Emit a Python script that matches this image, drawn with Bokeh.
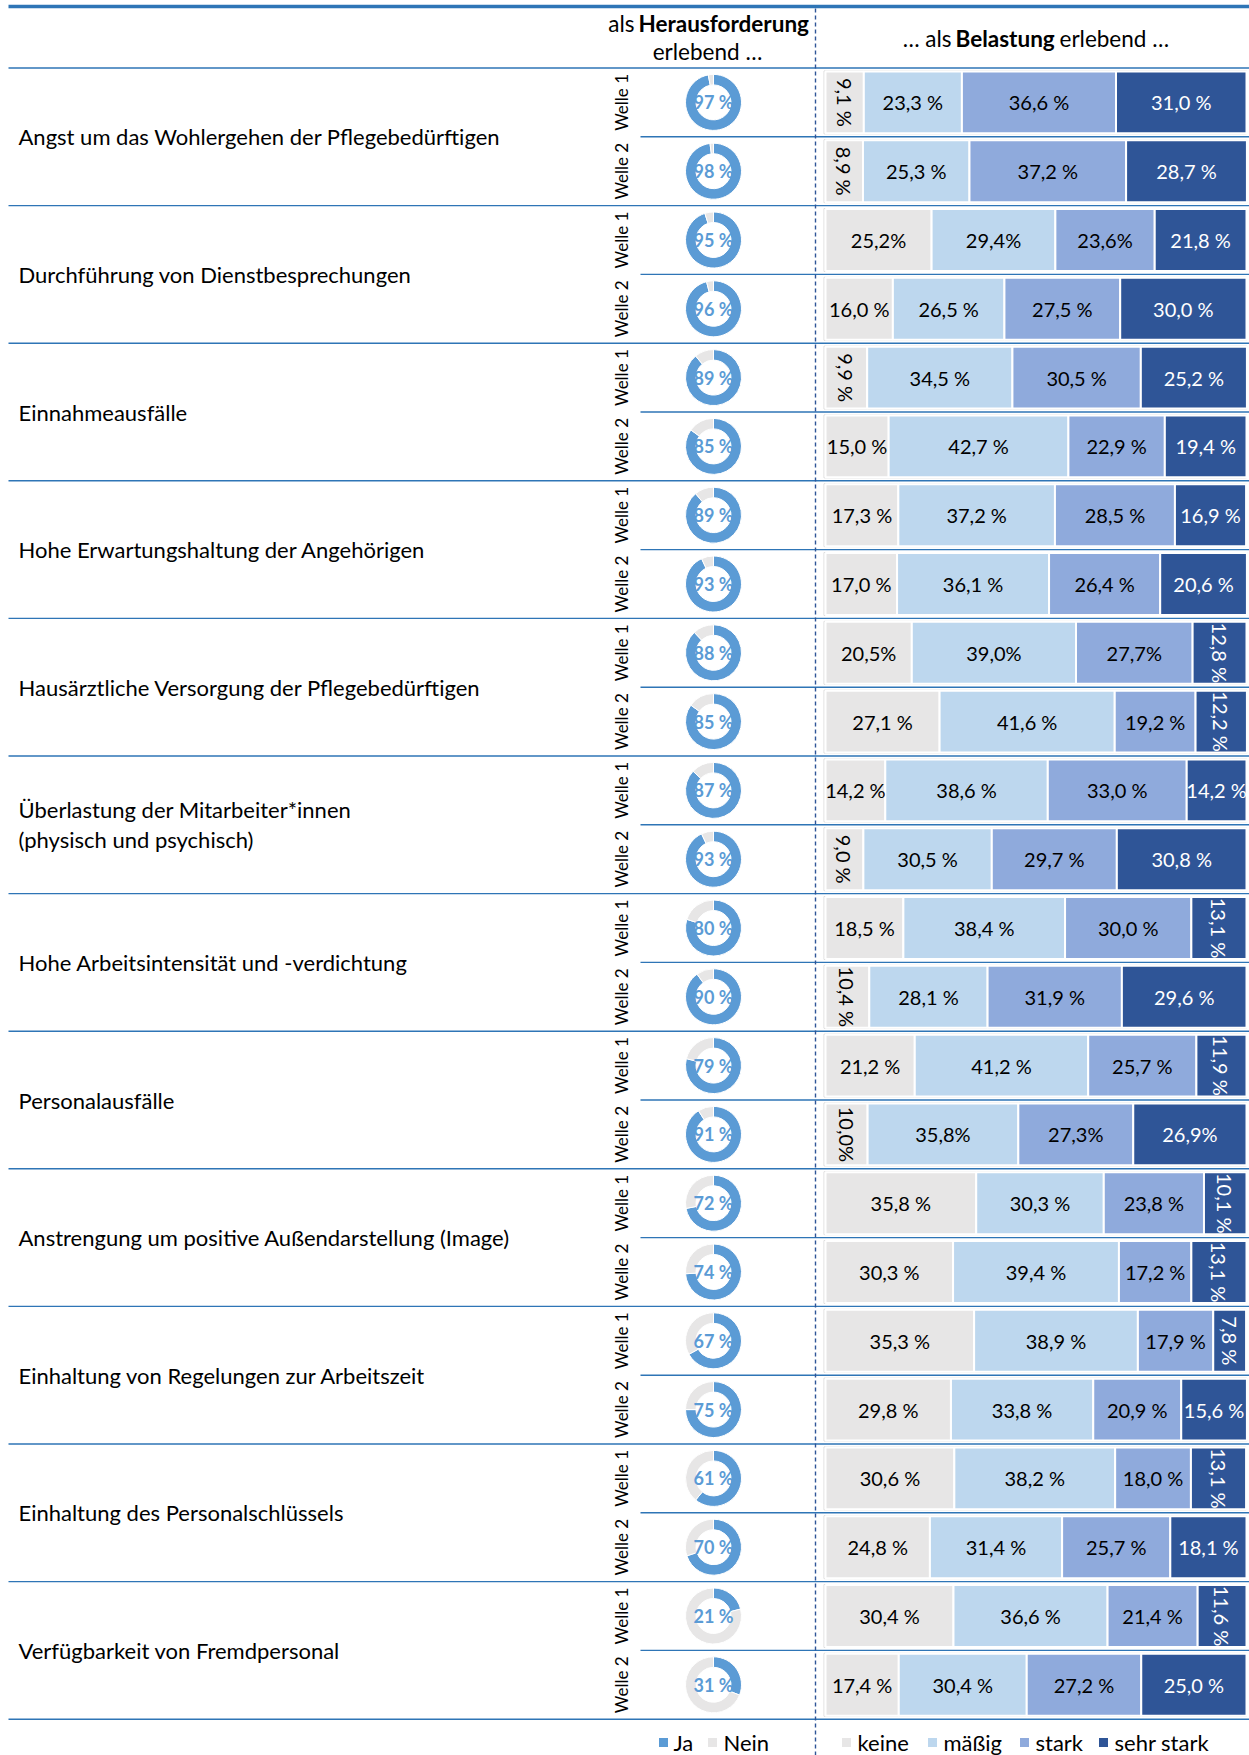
import math
from bokeh.plotting import figure
from bokeh.models import Range1d, ColumnDataSource
from bokeh.core.properties import value
from bokeh.embed import file_html
from bokeh.resources import INLINE

# ---------------- data ----------------
items = [
    "Angst um das Wohlergehen der Pflegebedürftigen",
    "Durchführung von Dienstbesprechungen",
    "Einnahmeausfälle",
    "Hohe Erwartungshaltung der Angehörigen",
    "Hausärztliche Versorgung der Pflegebedürftigen",
    "Überlastung der Mitarbeiter*innen\n(physisch und psychisch)",
    "Hohe Arbeitsintensität und -verdichtung",
    "Personalausfälle",
    "Anstrengung um positive Außendarstellung (Image)",
    "Einhaltung von Regelungen zur Arbeitszeit",
    "Einhaltung des Personalschlüssels",
    "Verfügbarkeit von Fremdpersonal",
]
waves = ["Welle 1", "Welle 2"]

ja_w1 = [97, 95, 89, 89, 88, 87, 80, 79, 72, 67, 61, 21]
ja_w2 = [98, 96, 85, 93, 85, 93, 90, 91, 74, 75, 70, 31]

categories = ["keine", "mäßig", "stark", "sehr stark"]
keine_w1 = [9.1, 25.2, 9.9, 17.3, 20.5, 14.2, 18.5, 21.2, 35.8, 35.3, 30.6, 30.4]
maessig_w1 = [23.3, 29.4, 34.5, 37.2, 39.0, 38.6, 38.4, 41.2, 30.3, 38.9, 38.2, 36.6]
stark_w1 = [36.6, 23.6, 30.5, 28.5, 27.7, 33.0, 30.0, 25.7, 23.8, 17.9, 18.0, 21.4]
sehr_w1 = [31.0, 21.8, 25.2, 16.9, 12.8, 14.2, 13.1, 11.9, 10.1, 7.8, 13.1, 11.6]

keine_w2 = [8.9, 16.0, 15.0, 17.0, 27.1, 9.0, 10.4, 10.0, 30.3, 29.8, 24.8, 17.4]
maessig_w2 = [25.3, 26.5, 42.7, 36.1, 41.6, 30.5, 28.1, 35.8, 39.4, 33.8, 31.4, 30.4]
stark_w2 = [37.2, 27.5, 22.9, 26.4, 19.2, 29.7, 31.9, 27.3, 17.2, 20.9, 25.7, 27.2]
sehr_w2 = [28.7, 30.0, 19.4, 20.6, 12.2, 30.8, 29.6, 26.9, 13.1, 15.6, 18.1, 25.0]

# labels printed without a space before "%" in the original (wave index, item index) -> category indices
nospace = {(0, 1): [0, 1, 2], (0, 4): [0, 1, 2], (1, 7): [0, 1, 2, 3]}

ja_legend = ["Ja", "Nein"]

# ---------------- styling / layout ----------------
FONT = value("Lato")
LINE = "#2E75B6"
JA_COL = "#5B9BD5"
NEIN_COL = "#E7E6E6"
CAT_COLORS = ["#E7E6E6", "#BDD7EE", "#8FAADC", "#2F5597"]
CAT_TEXT = ["#000000", "#000000", "#000000", "#FFFFFF"]

W, H = 1249, 1755
PX0, PX1 = 0, 1249
PY0, PY1 = 0, 1755
ROW0, RH = 67.5, 68.8


def py(y):
    return (y - ROW0) / RH


BAR_L, BAR_R = 825, 1246
pct_start = (PX0 - BAR_L) * 100 / (BAR_R - BAR_L)
pct_end = (PX1 - BAR_L) * 100 / (BAR_R - BAR_L)

p = figure(width=W, height=H, x_range=Range1d(PX0, PX1),
           y_range=Range1d(py(PY1), py(PY0)),
           x_axis_location=None, y_axis_location=None,
           output_backend="svg", toolbar_location=None, min_border=0)
p.extra_x_ranges = {"pct": Range1d(pct_start, pct_end)}
p.grid.visible = False
p.outline_line_color = None
p.background_fill_color = "white"
p.border_fill_color = "white"

n = len(items)
nrows = 2 * n

# ---- lines ----
p.segment(x0=[8], y0=[py(6)], x1=[PX1], y1=[py(6)], line_color=LINE, line_width=3.5)
gl = [2 * g for g in range(n + 1)]
p.segment(x0=[8] * len(gl), y0=gl, x1=[PX1] * len(gl), y1=gl, line_color=LINE, line_width=1.4)
hl = [2 * g + 1 for g in range(n)]
p.segment(x0=[640] * len(hl), y0=hl, x1=[PX1] * len(hl), y1=hl, line_color=LINE, line_width=1.4)
p.segment(x0=[815], y0=[py(8)], x1=[815], y1=[py(PY1)], line_color="#2F5597",
          line_width=1.4, line_dash="4 3")

# ---- headers ----
hdr = dict(text_font=FONT, text_font_size="22.5px", text_color="#000000", text_baseline="middle")
p.text(x=[634], y=[py(23)], text=["als"], text_align="right", **hdr)
p.text(x=[638], y=[py(23)], text=["Herausforderung"], text_align="left", text_font_style="bold", **hdr)
p.text(x=[707], y=[py(51)], text=["erlebend …"], text_align="center", **hdr)
p.text(x=[951], y=[py(38)], text=["… als"], text_align="right", **hdr)
p.text(x=[955], y=[py(38)], text=["Belastung"], text_align="left", text_font_style="bold", **hdr)
p.text(x=[1059], y=[py(38)], text=["erlebend …"], text_align="left", **hdr)

# ---- item labels ----
p.text(x=[18] * n, y=[2 * g + 1 for g in range(n)], text=items, text_font=FONT,
       text_font_size="22px", text_color="#000000", text_align="left",
       text_baseline="middle", text_line_height=1.12)

# ---- wave labels ----
p.text(x=[621] * nrows, y=[r + 0.5 for r in range(nrows)],
       text=[waves[r % 2] for r in range(nrows)], angle=math.pi / 2,
       text_font=FONT, text_font_size="17px", text_color="#000000",
       text_align="center", text_baseline="middle")

# ---- donuts ----
ja_all = []
ys = []
for g in range(n):
    for w, arr in enumerate([ja_w1, ja_w2]):
        ja_all.append(arr[g])
        ys.append(2 * g + w + 0.5)
start = [math.pi / 2] * nrows
mid = [math.pi / 2 - 2 * math.pi * v / 100 for v in ja_all]
end = [math.pi / 2 - 2 * math.pi] * nrows
dsrc = ColumnDataSource(dict(x=[713] * nrows, y=ys, s=start, m=mid, e=end,
                             lab=[f"{v} %" for v in ja_all]))
for a, b, col in [("s", "m", JA_COL), ("m", "e", NEIN_COL)]:
    p.annular_wedge(x="x", y="y", inner_radius=17.5, outer_radius=28,
                    inner_radius_units="screen", outer_radius_units="screen",
                    start_angle=a, end_angle=b, direction="clock",
                    fill_color=col, line_color="white", line_width=1, source=dsrc)
p.text(x="x", y="y", text="lab", source=dsrc, text_font=FONT, text_font_style="bold",
       text_font_size="18px", text_color=JA_COL, text_align="center", text_baseline="middle")

# ---- stacked bars ----
w1 = [keine_w1, maessig_w1, stark_w1, sehr_w1]
w2 = [keine_w2, maessig_w2, stark_w2, sehr_w2]
bx = dict(y=[], left=[], right=[], color=[], mid=[], lab=[], tcol=[], ang=[])
frames = dict(y=[], right=[])
for g in range(n):
    for w, series in enumerate([w1, w2]):
        y = 2 * g + w + 0.5
        cum = 0.0
        for c in range(4):
            v = series[c][g]
            bx["y"].append(y)
            bx["left"].append(cum)
            bx["right"].append(cum + v)
            bx["mid"].append(cum + v / 2)
            bx["color"].append(CAT_COLORS[c])
            bx["tcol"].append(CAT_TEXT[c])
            s = f"{v:.1f}".replace(".", ",")
            sep = "" if c in nospace.get((w, g), []) else " "
            bx["lab"].append(s + sep + "%")
            bx["ang"].append(-math.pi / 2 if v < 14 else 0.0)
            cum += v
        frames["y"].append(y)
        frames["right"].append(cum)
bsrc = ColumnDataSource(bx)
fsrc = ColumnDataSource(frames)
p.hbar(y="y", left=-0.35, right="right", height=0.915, source=fsrc, x_range_name="pct",
       fill_color=None, line_color="#D9D9D9", line_width=1)
p.hbar(y="y", left="left", right="right", height=0.9, fill_color="color", line_color="white",
       line_width=2, source=bsrc, x_range_name="pct")
p.text(x="mid", y="y", text="lab", angle="ang", text_color="tcol", source=bsrc,
       x_range_name="pct", text_font=FONT, text_font_size="20px",
       text_align="center", text_baseline="middle")

# ---- legends ----
ly = py(1742)
p.scatter(x=[663, 712], y=[ly, ly], marker="square", size=9, fill_color=[JA_COL, NEIN_COL],
          line_color=None)
p.text(x=[673, 723], y=[ly, ly], text=ja_legend, text_font=FONT, text_font_size="22px",
       text_color="#000000", text_align="left", text_baseline="middle")
p.scatter(x=[846, 932, 1024, 1103], y=[ly] * 4, marker="square", size=9,
          fill_color=CAT_COLORS, line_color=None)
p.text(x=[857, 943, 1035, 1114], y=[ly] * 4, text=categories, text_font=FONT,
       text_font_size="22px", text_color="#000000", text_align="left", text_baseline="middle")

open("out.html", "w").write(file_html(p, INLINE))
